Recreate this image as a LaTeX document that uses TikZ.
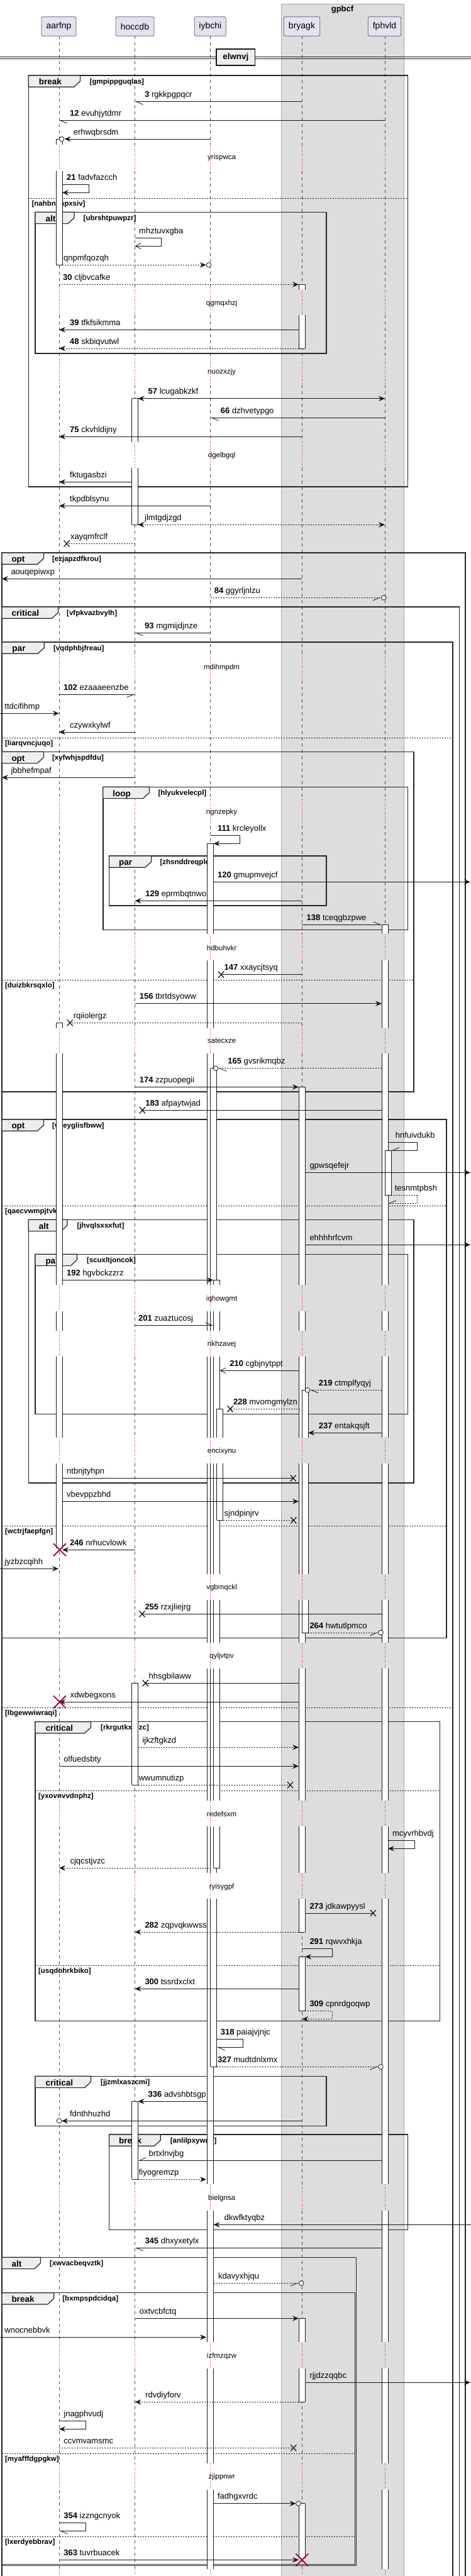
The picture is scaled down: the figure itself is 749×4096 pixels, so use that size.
\documentclass[tikz,border=0pt]{standalone}
\usepackage{fontspec}
\setmainfont{Liberation Sans}
\usetikzlibrary{arrows.meta}
\definecolor{partfill}{HTML}{E2E2F0}
\definecolor{boxfill}{HTML}{DDDDDD}
\definecolor{tabfill}{HTML}{EEEEEE}
\definecolor{dred}{HTML}{A80036}
\definecolor{ink}{HTML}{181818}
\tikzset{
 msgline/.style={draw=ink, line width=0.8pt},
 dsh/.style={dash pattern=on 2pt off 2pt},
 fa/.style={-{Stealth[length=10pt,width=8.5pt,inset=3.5pt]}},
 fab/.style={{Stealth[length=10pt,width=8.5pt,inset=3.5pt]}-{Stealth[length=10pt,width=8.5pt,inset=3.5pt]}},
 oa/.style={-{Straight Barb[length=9pt,width=9pt]}},
 hl/.style={-{Straight Barb[left,length=11pt,width=9pt]}},
 hr/.style={-{Straight Barb[right,length=11pt,width=9pt]}},
 lbl/.style={anchor=base west, inner sep=0pt, font=\fontsize{13}{15}\selectfont},
 part/.style={draw=ink!70, fill=partfill, rounded corners=2.5pt, minimum height=30.6pt, inner sep=0pt, line width=0.8pt, font=\fontsize{14}{16}\selectfont},
 lifel/.style={draw=ink!75, line width=0.6pt, dash pattern=on 5pt off 5pt},
 dlyl/.style={draw=dred, line width=0.7pt, dash pattern=on 1pt off 2.5pt},
 dly/.style={inner sep=0pt, font=\fontsize{11.5}{13}\selectfont},
 frmst/.style={draw=black!85, line width=1.5pt},
 tabst/.style={draw=black!85, line width=1.2pt, fill=tabfill},
 tablbl/.style={anchor=base west, inner sep=0pt, font=\bfseries\fontsize{13.5}{15}\selectfont},
 condst/.style={anchor=base west, inner sep=0pt, font=\bfseries\fontsize{11.5}{13}\selectfont},
 elsst/.style={draw=ink, line width=0.8pt, dash pattern=on 2pt off 2pt},
 actst/.style={draw=ink, line width=0.8pt},
 xst/.style={draw=ink, line width=1.3pt},
 rxst/.style={draw=dred, line width=1.8pt},
}
\newcommand\mg[6]{%
 \coordinate (s) at (#2,#1); \coordinate (e) at (#3,#1);
 \draw[msgline,#4] (s) -- (e);
 \node[lbl] at (#5,#1-7) {#6};}
\newcommand\sm[8]{%
 \coordinate (s) at (#3,#1); \coordinate (e) at (#5,#2);
 \draw[msgline,#6] (s) -- (#4,#1) -- (#4,#2) -- (e);
 \node[lbl] at (#7,#1-7) {#8};}
\newcommand\xm[2]{\draw[xst] (#1-4.5,#2-5) -- (#1+4.5,#2+5) (#1-4.5,#2+5) -- (#1+4.5,#2-5);}
\newcommand\rx[2]{\draw[rxst] (#1-10,#2-10) -- (#1+10,#2+10) (#1-10,#2+10) -- (#1+10,#2-10);}
\newcommand\ci[2]{\draw[msgline,fill=white] (#1,#2) circle (3.8pt);}
\newcommand\act[5]{%
 \fill[white] (#1,#2) rectangle (#1+10,#3);
 \draw[actst] (#1,#2) -- (#1,#3) (#1+10,#2) -- (#1+10,#3);
 \ifnum#4=1 \draw[actst] (#1,#2) -- (#1+10,#2);\fi
 \ifnum#5=1 \draw[actst] (#1,#3) -- (#1+10,#3);\fi}
\newcommand\frm[9]{%
 \draw[frmst] (#1,#2) rectangle (#3,#4);
 \draw[tabst] (#1,#2) -- (#5,#2) -- (#5,#2+9) -- (#5-10,#2+18.3) -- (#1,#2+18.3) -- cycle;
 \node[tablbl] at (#6,#2+14.7) {#7};
 \node[condst] at (#8,#2+13) {#9};}
\newcommand\els[4]{%
 \draw[elsst] (#1,#3) -- (#2,#3);
 \node[condst] at (#1+5,#3+12) {#4};}
\def\lsegs{57.3/229.7, 271.7/460.7, 501.3/570.3, 612.3/703, 744/1040.3, 1082.3/1270.7, 1312.7/1485.3, 1527.3/1634.7, 1675.3/2043.3, 2085.3/2115.7, 2157.3/2286.3, 2327.3/2502.7, 2544.3/2611.7, 2653.3/2862.7, 2904.3/2978.3, 3019.3/3473.3, 3515.3/3724.3, 3766/3916.7, 3958.7/4085}
\def\dsegs{229.7/271.7, 460.7/501.3, 570.3/612.3, 703/744, 1040.3/1082.3, 1270.7/1312.7, 1485.3/1527.3, 1634.7/1675.3, 2043.3/2085.3, 2115.7/2157.3, 2286.3/2327.3, 2502.7/2544.3, 2611.7/2653.3, 2862.7/2904.3, 2978.3/3019.3, 3473.3/3515.3, 3724.3/3766, 3916.7/3958.7, 4085/4100}
\def\longsegs{1527.3/1634.7, 1675.3/2043.3, 2085.3/2115.7, 2157.3/2286.3, 2327.3/2502.7, 2544.3/2611.7, 2653.3/2862.7, 2904.3/2978.3, 3019.3/3473.3, 3515.3/3724.3, 3766/3916.7, 3958.7/4085}
\def\midsegs{2085.3/2115.7, 2157.3/2286.3, 2327.3/2502.7, 2544.3/2611.7, 2653.3/2862.7, 2904.3/2978.3}
\def\thrsegs{2085.3/2115.7, 2157.3/2286.3, 2327.3/2502.7, 2544.3/2611.7, 2653.3/2862.7}
\begin{document}
\begin{tikzpicture}[x=1pt,y=-1pt]
\useasboundingbox (0,0) rectangle (749,4096);
\fill[white] (0,0) rectangle (749,4096);
% group box
\draw[fill=boxfill, draw=gray!70, line width=0.8pt] (447,6) rectangle (642,4110);
\node[font=\bfseries\fontsize{13}{15}\selectfont] (gpbcf) at (544.5,14.7) {gpbcf};
% lifelines
\foreach \x in {94,214.5,334.5,480,612} {
 \foreach \a/\b in \lsegs { \draw[lifel] (\x,\a) -- (\x,\b); }
 \foreach \a/\b in \dsegs { \draw[dlyl] (\x,\a) -- (\x,\b); }
}
% participants
\node[part,minimum width=55pt] (aarfnp) at (93.5,42) {aarfnp};
\node[part,minimum width=61pt] (hoccdb) at (214.5,42) {hoccdb};
\node[part,minimum width=50pt] (iybchi) at (334.3,42) {iybchi};
\node[part,minimum width=57.5pt] (bryagk) at (480,42) {bryagk};
\node[part,minimum width=52.5pt] (fphvld) at (611.5,42) {fphvld};
% divider
\draw[draw=ink, line width=0.8pt] (0,90) -- (749,90) (0,93.3) -- (749,93.3);
\node[draw=ink, line width=1.5pt, fill=tabfill, minimum width=61.6pt, minimum height=26pt, inner sep=0pt, font=\bfseries\fontsize{13.4}{15}\selectfont] (elwnvj) at (374.8,91) {elwnvj};
% frames
\frm{45.3}{120}{648.4}{774}{127.6}{61.7}{break}{142.6}{[gmpippguqlas]}
\els{45.3}{648.4}{315}{[nahbnanpxsiv]}
\frm{55.9}{337.3}{518.8}{562}{118}{72.3}{alt}{132.5}{[ubrshtpuwpzr]}
\frm{2.9}{879}{740}{4110}{69.4}{18.3}{opt}{82.9}{[ezjapzdfkrou]}
\frm{2.9}{965}{730.3}{4110}{92.5}{18.3}{critical}{106}{[vfpkvazbvylh]}
\frm{2.9}{1021}{720}{4110}{70.3}{19.3}{par}{84.8}{[vqdphbjfreau]}
\els{2.9}{720}{1173}{[liarqvncjuqo]}
\els{2.9}{720}{2715.3}{[lbgewwiwraqi]}
\frm{2.9}{1195.3}{658}{1736}{69.4}{18.3}{opt}{82.9}{[xyfwhjspdfdu]}
\els{2.9}{658}{1558.3}{[duizbkrsqxlo]}
\frm{163.8}{1251.3}{648.4}{1478.3}{237.5}{179.2}{loop}{251.4}{[hlyukvelecpl]}
\frm{173.4}{1361}{518.8}{1440}{240.8}{188.8}{par}{254.3}{[zhsnddreqplo]}
\frm{2.9}{1780}{710}{2604.3}{69.4}{18.3}{opt}{82.9}{[vqeyglisfbww]}
\els{2.9}{710}{1917.3}{[qaecvwmpjtvk]}
\els{2.9}{710}{2426.3}{[wctrjfaepfgn]}
\frm{45.3}{1939.3}{658}{2358}{107}{61.7}{alt}{122.4}{[jhvqlsxsxfut]}
\frm{55.9}{1994.3}{648.4}{2248.3}{122.4}{72.3}{par}{137.8}{[scuxltjoncok]}
\frm{55.9}{2737.7}{699.4}{3213.3}{144.5}{72.3}{critical}{160}{[rkrgutkxtbzc]}
\els{55.9}{699.4}{2847}{[yxovnvvdnphz]}
\els{55.9}{699.4}{3125.3}{[usqdohrkbiko]}
\frm{55.9}{3301.3}{518.8}{3380.3}{144.5}{72.3}{critical}{160}{[jjzmlxaszcmi]}
\frm{173.4}{3394}{648.4}{3545.3}{255.3}{188.8}{break}{270.7}{[anlilpxywrzf]}
\frm{2.9}{3589.3}{566.5}{4079.3}{64.5}{18.3}{alt}{79}{[xwvacbeqvztk]}
\frm{2.9}{3645.7}{564.5}{4077.3}{85.7}{18.3}{break}{99.2}{[bxmpspdcidqa]}
\els{2.9}{564.5}{3901.3}{[myafffdgpgkw]}
\els{2.9}{564.5}{4033.3}{[lxerdyebbrav]}
% delay texts
\foreach \t/\y in {yrispwca/251, qgmqxhzj/482.3, nuozxzjy/591.3, dgelbgql/724.3, mdihmpdm/1061.3, ngnzepky/1291.7, hdbuhvkr/1507, satecxze/1655.3, iqhowgmt/2065.3, nkhzavej/2137.3, encixynu/2307.3, vgbmqckl/2524.3, qyljvtpv/2633.3, redefsxm/2884.3, ryisygpf/3000.3, bielgnsa/3495.3, izfmzqzw/3746, zjippnwr/3938.3}
 { \node[dly] at (352.6,\y) {\t}; }
% activations
\act{89}{221}{229.7}{1}{0} \act{89}{271.7}{421.3}{0}{1}
\act{89}{1626.3}{1634.7}{1}{0} \act{89}{1675.3}{2043.3}{0}{0} \act{89}{2085.3}{2115.7}{0}{0} \act{89}{2157.3}{2286.3}{0}{0} \act{89}{2327.3}{2462}{0}{0}
\act{209.5}{633.7}{703}{1}{0} \act{209.5}{744}{834.3}{0}{1} \act{209.5}{2676.3}{2838.3}{1}{1} \act{209.5}{3341.3}{3465.3}{1}{1}
\act{329.5}{1341.3}{1485.3}{1}{0}
\foreach \a/\b in \longsegs { \act{329.5}{\a}{\b}{0}{0} }
\act{607}{1470.3}{1485.3}{1}{0}
\foreach \a/\b in \longsegs { \act{607}{\a}{\b}{0}{0} }
\act{334.5}{1698.7}{2043.3}{1}{0}
\foreach \a/\b in \midsegs { \act{334.5}{\a}{\b}{0}{0} }
\act{334.5}{3019.3}{3286.3}{0}{1}
\act{339.5}{2035.3}{2043.3}{1}{0}
\foreach \a/\b in \thrsegs { \act{339.5}{\a}{\b}{0}{0} }
\act{339.5}{2904.3}{2970.3}{0}{1}
\act{344.5}{2240.3}{2286.3}{1}{0} \act{344.5}{2327.3}{2417.3}{0}{1}
\act{475}{452.3}{460.7}{1}{0} \act{475}{501.3}{554}{0}{1}
\act{475}{1728.3}{2043.3}{1}{0}
\foreach \a/\b in \midsegs { \act{475}{\a}{\b}{0}{0} }
\act{475}{3019.3}{3072}{0}{1}
\act{480}{2210.3}{2286.3}{1}{0} \act{480}{2327.3}{2502.7}{0}{0} \act{480}{2544.3}{2596}{0}{1}
\act{475}{3111.3}{3197.7}{1}{1}
\act{475}{3686.3}{3724.3}{1}{0} \act{475}{3766}{3819.3}{0}{1}
\act{475}{3980.7}{4068}{1}{0}
\act{612}{1829.3}{1900.7}{1}{1}
% messages
\mg{161.7}{480}{214.5}{hl}{230}{\textbf{3} rgkkpgpqcr}
\mg{191.7}{612}{94}{hl}{111}{\textbf{12} evuhjytdmr}
\mg{221}{334.5}{102.5}{fa}{116.6}{erhwqbrsdm} \ci{98}{221}
\sm{293.7}{306.3}{99}{141.6}{99}{fa}{106}{\textbf{21} fadvfazcch}
\sm{378.7}{391.3}{214.5}{256.7}{214.5}{oa}{221}{mhztuvxgba}
\mg{421.3}{99}{327.8}{fa,dsh}{101}{qnpmfqozqh} \ci{332}{421.3}
\mg{452.3}{94}{475}{fa,dsh}{100}{\textbf{30} cljbvcafke}
\mg{524.3}{475}{94}{fa}{111}{\textbf{39} tfkfsikmma}
\mg{554}{475}{94}{fa,dsh}{111}{\textbf{48} skbiqvutwl}
\mg{633.7}{219.5}{612}{fab}{235.5}{\textbf{57} lcugabkzkf}
\mg{664.3}{612}{334.5}{hl}{350.7}{\textbf{66} dzhvetypgo}
\mg{694.3}{480}{94}{fa}{111}{\textbf{75} ckvhldijny}
\mg{766.3}{209.5}{94}{fa}{111}{fktugasbzi}
\mg{804.3}{334.5}{94}{fa}{111}{tkpdblsynu}
\mg{834.3}{219.5}{612}{fab,dsh}{230}{jlmtgdjzgd}
\mg{864.3}{214.5}{106}{dsh}{111.8}{xayqmfrclf} \xm{106}{864.3}
\mg{920.3}{480}{2.9}{fa}{17.3}{aouqepiwxp}
\mg{950.3}{334.5}{606}{hr,dsh}{340.6}{\textbf{84} ggyrljnlzu} \ci{610.3}{950.3}
\mg{1006.3}{334.5}{214.5}{hl}{230}{\textbf{93} mgmijdjnze}
\mg{1104.3}{94}{214.5}{hr}{101}{\textbf{102} ezaaaeenzbe}
\mg{1134.3}{0}{94}{fa}{7.2}{ttdcifihmp}
\mg{1164}{214.5}{94}{fa}{111}{czywxkylwf}
\mg{1236.3}{214.5}{2.9}{fa}{17.3}{jbbhefmpaf}
\sm{1328.7}{1341.3}{334.5}{381.5}{339.5}{fa}{345.9}{\textbf{111} krcleyollx}
\mg{1402.3}{339.5}{748}{fa}{345.9}{\textbf{120} gmupmvejcf}
\mg{1432.3}{480}{214.5}{fa}{231.2}{\textbf{129} eprmbqtnwo}
\mg{1470.3}{480}{607}{hl}{487.5}{\textbf{138} tceqgbzpwe}
\mg{1549.7}{480}{351.6}{}{356.5}{\textbf{147} xxaycjtsyq} \xm{351.6}{1549.7}
\mg{1595.7}{214.5}{607}{fa}{221.6}{\textbf{156} tbrtdsyoww}
\mg{1626.3}{480}{111.3}{dsh}{116.6}{rqiiolergz} \xm{111.3}{1626.3}
\mg{1698.7}{607}{347}{hl,dsh}{362.2}{\textbf{165} gvsrikmqbz} \ci{343.2}{1698.7}
\mg{1728.3}{214.5}{475}{fa}{221.6}{\textbf{174} zzpuopegii}
\mg{1765.3}{607}{226.4}{}{231.2}{\textbf{183} afpaytwjad} \xm{226.4}{1765.3}
\sm{1816.7}{1829.3}{617}{663.8}{622}{hr}{628.6}{hnfuivdukb}
\mg{1864.3}{485}{748}{fa}{492.3}{gpwsqefejr}
\sm{1900.7}{1913.3}{622}{663.8}{617}{hr,dsh}{627.6}{tesnmtpbsh}
\mg{1979.3}{485}{748}{fa}{492.3}{ehhhhrfcvm}
\mg{2035.3}{99}{339}{fa}{106}{\textbf{192} hgvbckzzrz}
\mg{2107.3}{214.5}{339.5}{hl}{220}{\textbf{201} zuaztucosj}
\mg{2179.3}{475}{349.5}{oa}{365.1}{\textbf{210} cgbjnytppt}
\mg{2210.3}{607}{493}{hl,dsh}{506.7}{\textbf{219} ctmplfyqyj} \ci{489}{2210.3}
\mg{2240.3}{477}{366}{dsh}{370.9}{\textbf{228} mvomgmylzn} \xm{366}{2240.3}
\mg{2278.3}{607}{490}{fa}{506.7}{\textbf{237} entakqsjft}
\mg{2350.3}{99}{466.3}{}{106}{ntbnjtyhpn} \xm{466.3}{2350.3}
\mg{2387.3}{99}{475}{fa}{106}{vbevppzbhd}
\mg{2417.3}{354.5}{466.8}{dsh}{356.5}{sjndpinjrv} \xm{466.8}{2417.3}
\mg{2464.3}{214.5}{99}{fa}{110.8}{\textbf{246} nrhucvlowk} \rx{94.9}{2464.3}
\mg{2494.3}{0}{93}{fa}{7.2}{jyzbzcqihh}
\mg{2566.3}{607}{226}{}{230.3}{\textbf{255} rzxjliejrg} \xm{226}{2566.3}
\mg{2596}{490}{601.5}{hr,dsh}{492.3}{\textbf{264} hwtutlpmco} \ci{605.5}{2596}
\mg{2676.3}{475}{231.2}{}{236.5}{hhsgbilaww} \xm{231.2}{2676.3}
\mg{2706.3}{475}{94}{fa}{111.3}{xdwbegxons} \rx{94.9}{2706.3}
\mg{2778.3}{219.5}{475}{fa,dsh}{226.4}{ijkzftgkzd}
\mg{2808.3}{94}{475}{fa}{101.2}{olfuedsbty}
\mg{2838.3}{219.5}{461.5}{dsh}{220.6}{wwumnutizp} \xm{461.5}{2838.3}
\sm{2926.7}{2939.3}{617}{659}{617}{fa}{623.8}{mcyvrhbvdj}
\mg{2970.3}{332}{94}{fa,dsh}{111.3}{cjqcstjvzc}
\mg{3042}{485}{593.4}{}{492.3}{\textbf{273} jdkawpyysl} \xm{593.4}{3042}
\mg{3072}{475}{214.5}{fa,dsh}{230.3}{\textbf{282} zqpvqkwwss}
\sm{3098.7}{3111.3}{480}{528}{485}{fa}{492.3}{\textbf{291} rqwvxhkja}
\mg{3162.3}{475}{214.5}{fa}{230.3}{\textbf{300} tssrdxclxt}
\sm{3197.7}{3210.3}{485}{528}{480.5}{fa,dsh}{492.3}{\textbf{309} cpnrdgoqwp}
\sm{3242.3}{3255.3}{344.5}{386.8}{344.5}{hl}{350.7}{\textbf{318} paiajvjnjc}
\mg{3286.3}{344.5}{601.5}{hr,dsh}{345.9}{\textbf{327} mudtdnlxmx} \ci{605.5}{3286.3}
\mg{3341.3}{329.5}{219.5}{fa}{235.5}{\textbf{336} advshbtsgp}
\mg{3372.3}{480}{98}{fa}{110.8}{fdnthhuzhd} \ci{94}{3372.3}
\mg{3435.3}{607}{219.5}{hr}{236.5}{brtxlnvjbg}
\mg{3465.3}{219.5}{328}{fa,dsh}{220.6}{fiyogremzp}
\mg{3537.3}{749}{339.5}{fa}{356.5}{dkwfktyqbz}
\mg{3574.3}{607}{214.5}{hl}{230.3}{\textbf{345} dhxyxetylx}
\mg{3630.3}{339.5}{475}{hr,dsh}{346.8}{kdavyxhjqu} \ci{479.3}{3630.3}
\mg{3686.3}{214.5}{475}{fa}{221.6}{oxtvcbfctq}
\mg{3716.3}{0}{328}{fa}{7.2}{wnocnebbvk}
\mg{3788.3}{485}{748}{fa}{492.3}{rjjdzzqqbc}
\mg{3819.3}{475}{214.5}{fa,dsh}{231.2}{rdvdiyforv}
\sm{3849.7}{3862.3}{94}{136.8}{94}{fa}{101.2}{jnagphvudj}
\mg{3892.3}{94}{466.8}{dsh}{101.2}{ccvmvamsmc} \xm{466.8}{3892.3}
\mg{3980.7}{339.5}{470.5}{fa}{345.9}{fadhgxvrdc} \ci{474.5}{3980.7}
\sm{4011.3}{4024.3}{94}{136.8}{94}{hl}{101.2}{\textbf{354} izzngcnyok}
\mg{4070.3}{94}{475}{fa}{101.2}{\textbf{363} tuvrbuacek} \rx{480.3}{4070.3}
\end{tikzpicture}
\end{document}
